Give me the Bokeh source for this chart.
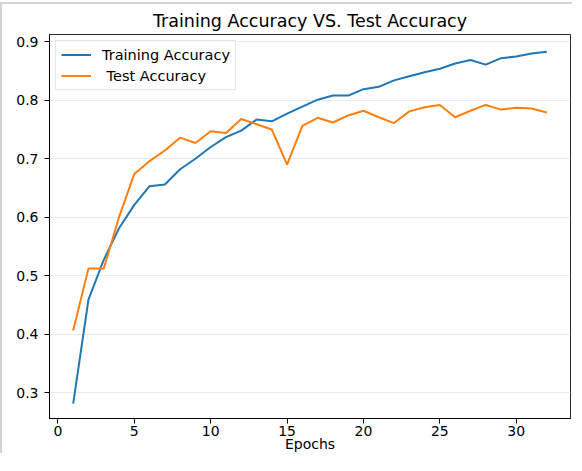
from bokeh.plotting import figure
from bokeh.models import FixedTicker, Range1d, Legend, LegendItem
from bokeh.embed import file_html
from bokeh.resources import INLINE

epochs = list(range(1, 33))
train_acc = [0.281, 0.459, 0.527, 0.581, 0.621, 0.653, 0.656, 0.682, 0.700, 0.720,
             0.737, 0.748, 0.767, 0.764, 0.777, 0.789, 0.801, 0.808, 0.808, 0.819,
             0.823, 0.834, 0.841, 0.848, 0.854, 0.863, 0.869, 0.861, 0.872, 0.875,
             0.880, 0.883]
test_acc = [0.406, 0.512, 0.512, 0.600, 0.674, 0.696, 0.714, 0.736, 0.727, 0.747,
            0.744, 0.768, 0.759, 0.750, 0.690, 0.756, 0.770, 0.762, 0.774, 0.782,
            0.771, 0.761, 0.781, 0.788, 0.792, 0.771, 0.782, 0.792, 0.784, 0.787,
            0.786, 0.779]
x_ticks = [0, 5, 10, 15, 20, 25, 30]
y_ticks = [0.3, 0.4, 0.5, 0.6, 0.7, 0.8, 0.9]
series_labels = ["Training Accuracy", " Test Accuracy"]

FONT = "DejaVu Sans"

p = figure(width=572, height=451, output_backend="svg", toolbar_location=None,
           title="Training Accuracy VS. Test Accuracy",
           x_range=Range1d(-0.55, 33.55), y_range=Range1d(0.2556, 0.9125),
           min_border_left=47, min_border_right=4, min_border_top=29, min_border_bottom=37)
p.styles = {"border-left": "2px solid #d4d4d4", "border-top": "2px solid #d4d4d4",
            "margin-top": "2px"}

p.title.align = "center"
p.title.text_font = FONT
p.title.text_font_size = "17.5px"
p.title.text_font_style = "normal"
p.title.text_color = "#000000"
p.title.offset = 0
p.title.standoff = 8

p.outline_line_color = "#000000"
p.outline_line_width = 1
p.outline_line_alpha = 0.85
p.background_fill_color = "white"
p.border_fill_color = "white"

p.xgrid.visible = False
p.ygrid.grid_line_color = "#ebebeb"
p.ygrid.grid_line_width = 1
p.ygrid.ticker = FixedTicker(ticks=y_ticks)

for ax in (p.xaxis[0], p.yaxis[0]):
    ax.axis_line_color = "#000000"
    ax.major_tick_line_color = "#000000"
    ax.major_tick_out = 5
    ax.major_tick_in = 0
    ax.minor_tick_line_color = None
    ax.major_label_text_font = FONT
    ax.major_label_text_font_size = "14px"
    ax.major_label_text_color = "#000000"
    ax.axis_label_text_font = FONT
    ax.axis_label_text_font_size = "14px"
    ax.axis_label_text_font_style = "normal"
    ax.axis_label_text_color = "#000000"

p.xaxis[0].ticker = FixedTicker(ticks=x_ticks)
p.yaxis[0].ticker = FixedTicker(ticks=y_ticks)
p.yaxis[0].major_label_standoff = 6
p.xaxis[0].axis_label = "Epochs"
p.xaxis[0].axis_label_standoff = -3
p.xaxis[0].major_label_standoff = 2

r1 = p.line(epochs, train_acc, line_color="#1f77b4", line_width=2)
r2 = p.line(epochs, test_acc, line_color="#ff7f0e", line_width=2)

legend = Legend(items=[LegendItem(label=series_labels[0], renderers=[r1]),
                       LegendItem(label=series_labels[1], renderers=[r2])],
                location="top_left")
legend.margin = 6
legend.padding = 5
legend.spacing = 4
legend.glyph_width = 30
legend.glyph_height = 17
legend.label_standoff = 11
legend.label_text_font = FONT
legend.label_text_font_size = "14.5px"
legend.label_text_color = "#000000"
legend.border_line_color = "#cccccc"
legend.border_line_width = 1
legend.background_fill_alpha = 0.8
p.add_layout(legend)

open("out.html", "w").write(file_html(p, INLINE))
